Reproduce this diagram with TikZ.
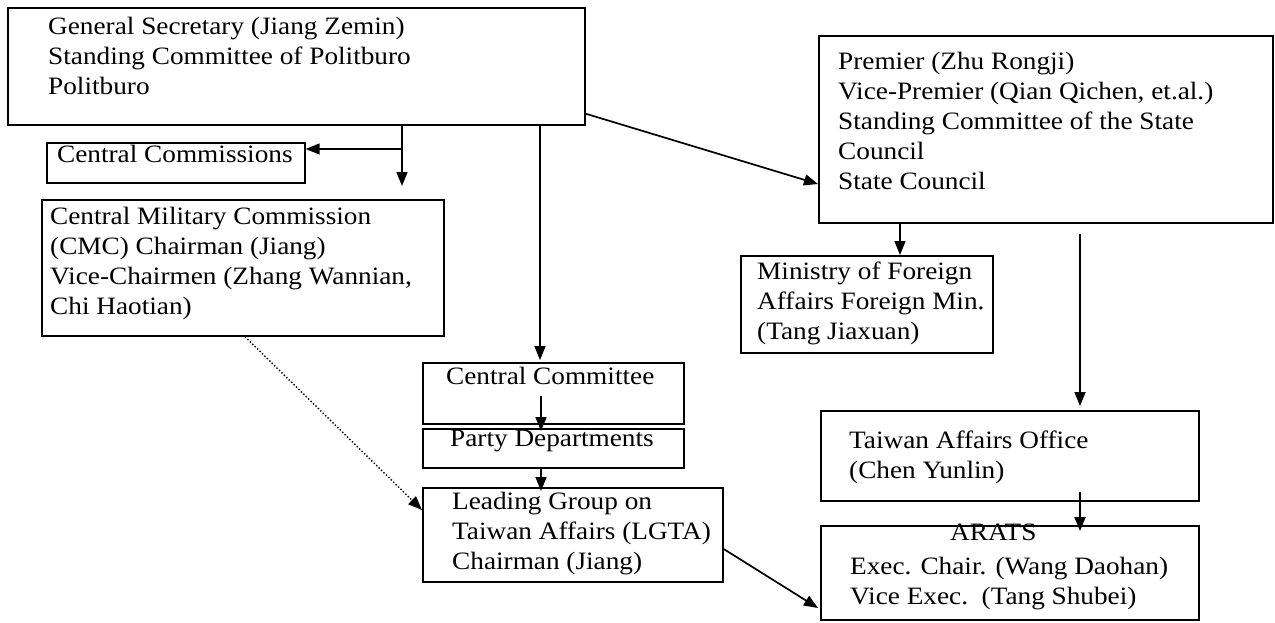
\documentclass[tikz,border=0pt]{standalone}
\usepackage{fontspec}
\setmainfont[FakeStretch=1.09]{Liberation Serif}
\usetikzlibrary{arrows.meta,calc}
\begin{document}
\begin{tikzpicture}[x=1pt,y=-1pt,
  box/.style={draw,line width=1.7pt,inner sep=0pt,anchor=north west},
  txt/.style={inner sep=0pt,anchor=north west,align=left,font=\fontsize{25}{30}\selectfont},
  arr/.style={line width=1.7pt,-{Triangle[length=14pt,width=11pt]}},
  dotarr/.style={line width=1.4pt,dotted,-{Triangle[length=14pt,width=11pt]}}]
\useasboundingbox (0,0) rectangle (1275,622);
% boxes
\node[box,minimum width=577pt,minimum height=117pt] (gs) at (7,7) {};
\node[box,minimum width=258pt,minimum height=40pt] (ccom) at (46,142) {};
\node[box,minimum width=402pt,minimum height=136pt] (cmc) at (41,199) {};
\node[box,minimum width=454pt,minimum height=187pt] (prem) at (818,35) {};
\node[box,minimum width=252pt,minimum height=97pt] (mfa) at (740,255) {};
\node[box,minimum width=261pt,minimum height=61pt] (cc) at (422,362) {};
\node[box,minimum width=261pt,minimum height=39pt] (pd) at (422,428) {};
\node[box,minimum width=300pt,minimum height=94pt] (lgta) at (422,487) {};
\node[box,minimum width=378pt,minimum height=90pt] (tao) at (820,410) {};
\node[box,minimum width=378pt,minimum height=94pt] (arats) at (820,525) {};
% texts
\node[txt] (gst) at (48,17) {General Secretary (Jiang Zemin)\\Standing Committee of Politburo\\Politburo};
\node[txt] (ccomt) at (57,145) {Central Commissions};
\node[txt] (cmct) at (50,207) {Central Military Commission\\(CMC) Chairman (Jiang)\\Vice-Chairmen (Zhang Wannian,\\Chi Haotian)};
\node[txt] (premt) at (838,52) {Premier (Zhu Rongji)\\Vice-Premier (Qian Qichen, et.al.)\\Standing Committee of the State\\Council\\State Council};
\node[txt] (mfat) at (757,262) {Ministry of Foreign\\Affairs Foreign Min.\\(Tang Jiaxuan)};
\node[txt] (cct) at (446,367) {Central Committee};
\node[txt] (pdt) at (450,430) {Party Departments};
\node[txt] (lgtat) at (452,492) {Leading Group on\\Taiwan Affairs (LGTA)\\Chairman (Jiang)};
\node[txt] (taot) at (849,431) {Taiwan Affairs Office\\(Chen Yunlin)};
\node[txt] (aratst) at (950,524) {ARATS};
\node[txt] (aratsl) at (850,557) {Exec. Chair. (Wang Daohan)\\Vice Exec.\ \ (Tang Shubei)};
% connectors
\coordinate (j1) at (402,149);
\draw[line width=1.7pt] (gs.south -| j1) -- (j1);
\draw[arr] (j1) -- (ccom.east |- j1);
\draw[arr] (j1) -- ($(cmc.north -| j1)+(0,-13)$);
\draw[arr] (gs.south -| 540,0) -- ($(cc.north -| 540,0)+(0,-2)$);
\draw[arr] ($(gs.south east)+(0,-12)$) -- ($(prem.north west)+(0,149)$);
\draw[arr] (prem.south -| 900,0) -- (mfa.north -| 900,0);
\draw[arr] ($(prem.south -| 1080,0)+(0,10)$) -- ($(tao.north -| 1080,0)+(0,-4)$);
\draw[arr] ($(cc.north -| 541,0)+(0,34)$) -- ($(pd.north -| 541,0)+(0,3)$);
\draw[arr] (pd.south -| 541,0) -- ($(lgta.north -| 541,0)+(0,4)$);
\draw[arr] ($(tao.south -| 1080,0)+(0,-10)$) -- ($(arats.north -| 1080,0)+(0,6)$);
\draw[dotarr] ($(cmc.south west)+(204,0)$) -- ($(lgta.north west)+(0,23)$);
\draw[arr] ($(lgta.north east)+(0,62)$) -- ($(arats.north west)+(-2,83)$);
\end{tikzpicture}
\end{document}
